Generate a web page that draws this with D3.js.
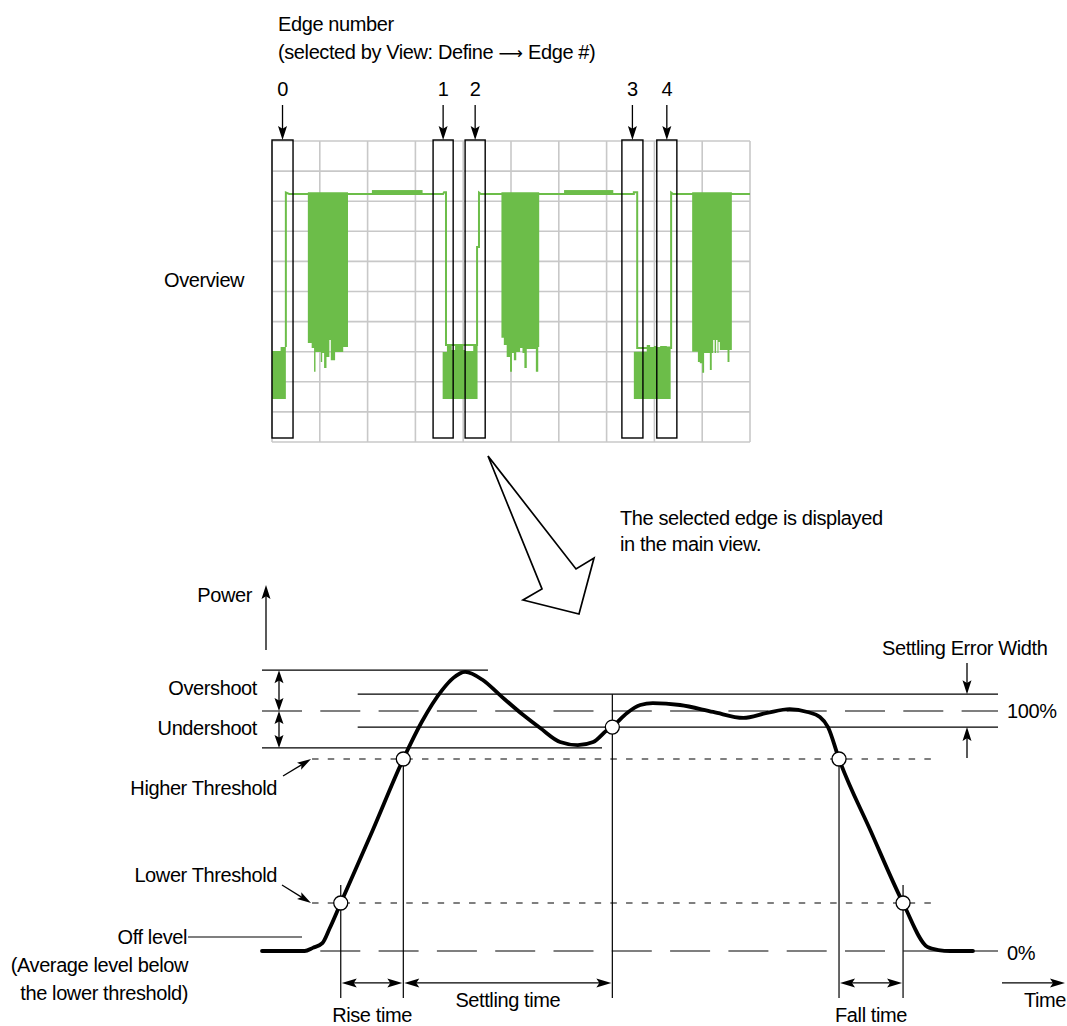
<!DOCTYPE html>
<html><head><meta charset="utf-8">
<script src="https://cdn.jsdelivr.net/npm/d3@7"></script>
<style>
body{margin:0;background:#fff}
svg{display:block}
text{font-family:"Liberation Sans",Arial,Helvetica,sans-serif;font-size:20px;letter-spacing:-0.4px;fill:#000}
</style>
</head><body>
<svg id="c" width="1067" height="1026"></svg>
<script>
// ---------------- Overview data (grid divisions: x 0..10, y 0..10) ----------------
const edgeIds   = [0, 1, 2, 3, 4];
const edgeStart = [0.00, 3.37, 4.04, 7.32, 8.05];
const edgeEnd   = [0.44, 3.79, 4.46, 7.76, 8.47];

const traceT = [0.29,0.29,0.36,3.58,3.60,3.64,3.64,4.29,4.29,4.33,4.33,4.37,7.57,7.57,7.64,7.64,8.35,8.35,8.39,10];
const traceV = [3.16,8.29,8.24,8.24,8.30,8.30,3.22,3.22,6.48,6.48,8.29,8.24,8.24,8.30,8.30,3.12,3.12,8.29,8.24,8.24];

const burstTop = 8.30;
const burst1Edges = [0.75,0.83,0.88,0.91,1.02,1.05,1.09,1.14,1.20,1.23,1.32,1.49,1.59];
const burst1Floor = [3.29,3.12,2.33,2.99,2.66,2.96,2.46,2.82,3.39,2.72,2.99,3.16];
const burst2Edges = [4.80,4.85,4.91,4.98,5.02,5.06,5.11,5.19,5.24,5.28,5.33,5.52,5.57,5.59];
const burst2Floor = [3.46,3.22,2.82,2.33,2.96,2.72,2.99,3.12,2.96,2.46,3.09,2.33,3.16];
const burst3Edges = [8.79,8.91,8.95,9.00,9.04,9.16,9.20,9.23,9.26,9.29,9.32,9.34,9.37,9.53,9.57,9.62];
const burst3Floor = [3.00,2.66,2.62,2.30,2.96,2.39,2.96,3.39,2.96,3.39,2.96,3.32,3.06,2.66,3.06];

const lowFloor = 1.43;
const low0Edges = [0.00,0.18,0.29];
const low0Top   = [3.02,3.16];
const low1Edges = [3.57,3.66,3.76,3.83,3.90,4.00,4.04,4.21,4.30];
const low1Top   = [2.99,3.19,3.06,3.19,3.22,3.06,3.02,3.22];
const low2Edges = [7.57,7.84,7.91,7.99,8.05,8.12,8.26,8.34];
const low2Top   = [3.00,3.22,3.12,3.19,3.09,3.19,3.17];

const plateauStart = [2.09, 6.11];
const plateauEnd   = [3.15, 7.14];
const plateauHi = 8.37, plateauLo = 8.21;

// ---------------- Main view data (time 0..100, power %) ----------------
const pulseTime  = [0,5.8,6.9,8.2,9.2,10.7,15.0,19.2,21.7,24.5,26.0,27.6,30.0,32.3,35.5,37.8,40.5,42.9,45.0,46.9,47.6,49.6,51.4,53.1,56.8,61.3,65.4,68.6,71.7,74.1,75.8,76.9,78.4,82.7,87.1,90.4,91.9,93.5,96.6];
const pulsePower = [0,0,1.3,3.3,9.5,20,50,80,95.4,108.8,113.8,116.3,112.9,106.7,98.3,92.9,87.1,85.8,87.1,92.1,93.5,99.2,102.5,103.3,102.5,99.6,97.1,99.2,100.8,99.6,97.5,93.3,80,50,20,1.7,0.4,0,0];

const levelNames  = ["Overshoot max","Settling upper","100%","Settling lower","Undershoot min","Higher Threshold","Lower Threshold","0%"];
const levelValues = [117, 107, 100, 93.3, 84.6, 80, 20, 0];
const levelStart  = [0, 13.0, 0, 13.0, 0, 6.8, 6.8, 0];
const levelEnd    = [30.7, 100, 100, 100, 46.2, 91.4, 91.4, 100];

const crossTimes = [10.7, 19.2, 47.6, 78.4, 87.1];
const crossPower = [20, 80, 93.3, 80, 20];

const measureNames = ["Rise time", "Settling time", "Fall time"];
const measureStart = [10.7, 19.2, 78.4];
const measureEnd   = [19.2, 47.6, 87.1];

// ---------------- Drawing ----------------
const svg = d3.select("#c");
svg.append("rect").attr("width",1067).attr("height",1026).attr("fill","#fff");
const GREEN = "#6cbd49";

function head(g, tx, ty, fx, fy, len, w) {
  const dx = tx - fx, dy = ty - fy, n = Math.hypot(dx, dy);
  const ux = dx / n, uy = dy / n, px = -uy, py = ux;
  const bx = tx - len * ux, by = ty - len * uy;
  const nx = tx - 0.8 * len * ux, ny = ty - 0.8 * len * uy;
  g.append("path")
    .attr("d", `M${tx},${ty}L${bx + px * w / 2},${by + py * w / 2}L${nx},${ny}L${bx - px * w / 2},${by - py * w / 2}Z`)
    .attr("fill", "#000");
}
function arrow(g, x1, y1, x2, y2, opt) {
  opt = opt || {};
  const len = opt.len || 13, w = opt.w || 9;
  const dx = x2 - x1, dy = y2 - y1, n = Math.hypot(dx, dy);
  const ux = dx / n, uy = dy / n;
  const sx = opt.both ? x1 + ux * len * 0.7 : x1, sy = opt.both ? y1 + uy * len * 0.7 : y1;
  g.append("line").attr("x1", sx).attr("y1", sy)
    .attr("x2", x2 - ux * len * 0.7).attr("y2", y2 - uy * len * 0.7)
    .attr("stroke", "#000").attr("stroke-width", opt.sw || 1.3);
  head(g, x2, y2, x1, y1, len, w);
  if (opt.both) head(g, x1, y1, x2, y2, len, w);
}
function label(g, x, y, s, anchor) {
  return g.append("text").attr("x", x).attr("y", y).attr("text-anchor", anchor || "start").text(s);
}

// ----- Overview panel -----
const ox = d3.scaleLinear().domain([0, 10]).range([272, 750]);
const oy = d3.scaleLinear().domain([0, 10]).range([442, 141]);
const gO = svg.append("g");

d3.range(0, 11).forEach(i => {
  gO.append("line").attr("x1", ox(i)).attr("x2", ox(i)).attr("y1", oy(0)).attr("y2", oy(10))
    .attr("stroke", "#c8c8c8").attr("stroke-width", 1.6);
  gO.append("line").attr("x1", ox(0)).attr("x2", ox(10)).attr("y1", oy(i)).attr("y2", oy(i))
    .attr("stroke", "#c8c8c8").attr("stroke-width", 1.6);
});

const traceLine = d3.line().x(d => ox(d[0])).y(d => oy(d[1]));
gO.append("path").attr("d", traceLine(d3.zip(traceT, traceV)))
  .attr("fill", "none").attr("stroke", GREEN).attr("stroke-width", 2);

const burstArea = d3.area().x(d => ox(d[0])).y0(d => oy(d[1])).y1(oy(burstTop)).curve(d3.curveStepAfter);
[[burst1Edges, burst1Floor], [burst2Edges, burst2Floor], [burst3Edges, burst3Floor]].forEach(([e, f]) => {
  const pts = e.map((x, i) => [x, f[Math.min(i, f.length - 1)]]);
  gO.append("path").attr("d", burstArea(pts)).attr("fill", GREEN);
});

const lowArea = d3.area().x(d => ox(d[0])).y0(oy(lowFloor)).y1(d => oy(d[1])).curve(d3.curveStepAfter);
[[low0Edges, low0Top], [low1Edges, low1Top], [low2Edges, low2Top]].forEach(([e, t]) => {
  const pts = e.map((x, i) => [x, t[Math.min(i, t.length - 1)]]);
  gO.append("path").attr("d", lowArea(pts)).attr("fill", GREEN);
});

plateauStart.forEach((s, i) => {
  gO.append("rect").attr("x", ox(s)).attr("width", ox(plateauEnd[i]) - ox(s))
    .attr("y", oy(plateauHi)).attr("height", oy(plateauLo) - oy(plateauHi)).attr("fill", GREEN);
});

edgeIds.forEach((id, i) => {
  const x0 = ox(edgeStart[i]), x1 = ox(edgeEnd[i]), cx = (x0 + x1) / 2;
  gO.append("rect").attr("x", x0).attr("y", oy(10) - 1).attr("width", x1 - x0).attr("height", oy(0) - oy(10) - 3)
    .attr("fill", "none").attr("stroke", "#000").attr("stroke-width", 1.4);
  arrow(gO, cx, 105, cx, oy(10) - 1, { len: 14, w: 9 });
  label(gO, cx, 96, String(id), "middle");
});

label(svg, 278, 31, "Edge number");
const t2 = label(svg, 278, 59, "(selected by View: Define ");
t2.append("tspan").style("font-family", "'DejaVu Sans'").style("font-size", "17px").style("letter-spacing", "0px").text("\u27F6");
t2.append("tspan").text(" Edge #)");
label(svg, 164, 287, "Overview");

// Big hollow arrow
svg.append("path")
  .attr("d", "M488,456L576,569L594,558L579,614L523,600L542,589Z")
  .attr("fill", "#fff").attr("stroke", "#000").attr("stroke-width", 1.7).attr("stroke-linejoin", "miter");
label(svg, 620, 525, "The selected edge is displayed");
label(svg, 620, 551, "in the main view.");

// ----- Main view -----
const mx = d3.scaleLinear().domain([0, 100]).range([262, 998]);
const my = d3.scaleLinear().domain([0, 100]).range([951, 711]);
const gM = svg.append("g");

levelValues.forEach((v, i) => {
  const ln = gM.append("line").attr("x1", mx(levelStart[i])).attr("x2", mx(levelEnd[i]))
    .attr("y1", my(v)).attr("y2", my(v)).attr("stroke", "#000").attr("stroke-width", 1.2);
  if (i === 2 || i === 7) ln.attr("stroke-dasharray", "40,18.3");
  if (i === 5 || i === 6) ln.attr("stroke-dasharray", "6.5,9.2");
});

const vBottom = -19.6;
crossTimes.forEach((t, i) => {
  let top = crossPower[i];
  if (i === 0 || i === 4) top = 27.5;
  if (i === 2) top = 107;
  gM.append("line").attr("x1", mx(t)).attr("x2", mx(t)).attr("y1", my(top)).attr("y2", my(vBottom))
    .attr("stroke", "#000").attr("stroke-width", 1.2);
});

const pulseLine = d3.line().x(d => mx(d[0])).y(d => my(d[1])).curve(d3.curveMonotoneX);
gM.append("path").attr("d", pulseLine(d3.zip(pulseTime, pulsePower)))
  .attr("fill", "none").attr("stroke", "#000").attr("stroke-width", 3.8)
  .attr("stroke-linecap", "round").attr("stroke-linejoin", "round");

crossTimes.forEach((t, i) => {
  gM.append("circle").attr("cx", mx(t)).attr("cy", my(crossPower[i])).attr("r", 7)
    .attr("fill", "#fff").attr("stroke", "#000").attr("stroke-width", 1.3);
});

// measurement arrows
const arrowRow = -13.3;
measureNames.forEach((name, i) => {
  const a = mx(measureStart[i]), b = mx(measureEnd[i]);
  arrow(gM, a + 1, my(arrowRow), b - 1, my(arrowRow), { both: true, len: 15, w: 9 });
  label(gM, (a + b) / 2, i === 1 ? 1007 : 1022, name, "middle");
});

// Power / Time axes arrows
arrow(gM, 266, 650, 266, 585, { len: 14, w: 9 });
label(gM, 252, 602, "Power", "end");
arrow(gM, 1002, my(arrowRow), 1065, my(arrowRow), { len: 15, w: 9 });
label(gM, 1066, 1007, "Time", "end");

// Overshoot / Undershoot arrows
arrow(gM, 279, my(levelValues[0]), 279, my(levelValues[2]), { both: true, len: 13, w: 9 });
arrow(gM, 279, my(levelValues[2]), 279, my(levelValues[4]), { both: true, len: 13, w: 9 });
label(gM, 257, 695, "Overshoot", "end");
label(gM, 257, 735, "Undershoot", "end");

// Threshold leaders
label(gM, 277, 795, "Higher Threshold", "end");
arrow(gM, 283, 776, mx(levelStart[5]) - 1, my(levelValues[5]), { len: 14, w: 8 });
label(gM, 277, 882, "Lower Threshold", "end");
arrow(gM, 282, 885, mx(levelStart[6]) - 1, my(levelValues[6]), { len: 14, w: 8 });

// Off level
label(gM, 187, 944, "Off level", "end");
gM.append("line").attr("x1", 188).attr("x2", 302).attr("y1", 937).attr("y2", 937)
  .attr("stroke", "#000").attr("stroke-width", 1.2);
label(gM, 188, 972, "(Average level below", "end");
label(gM, 188, 1000, "the lower threshold)", "end");

// Settling error width
label(gM, 882, 655, "Settling Error Width");
arrow(gM, 967, 663, 967, my(levelValues[1]), { len: 14, w: 9 });
arrow(gM, 967, 758, 967, my(levelValues[3]), { len: 14, w: 9 });
label(gM, 1007, my(100) + 7, "100%");
label(gM, 1007, my(0) + 9, "0%");
</script>
</body></html>
